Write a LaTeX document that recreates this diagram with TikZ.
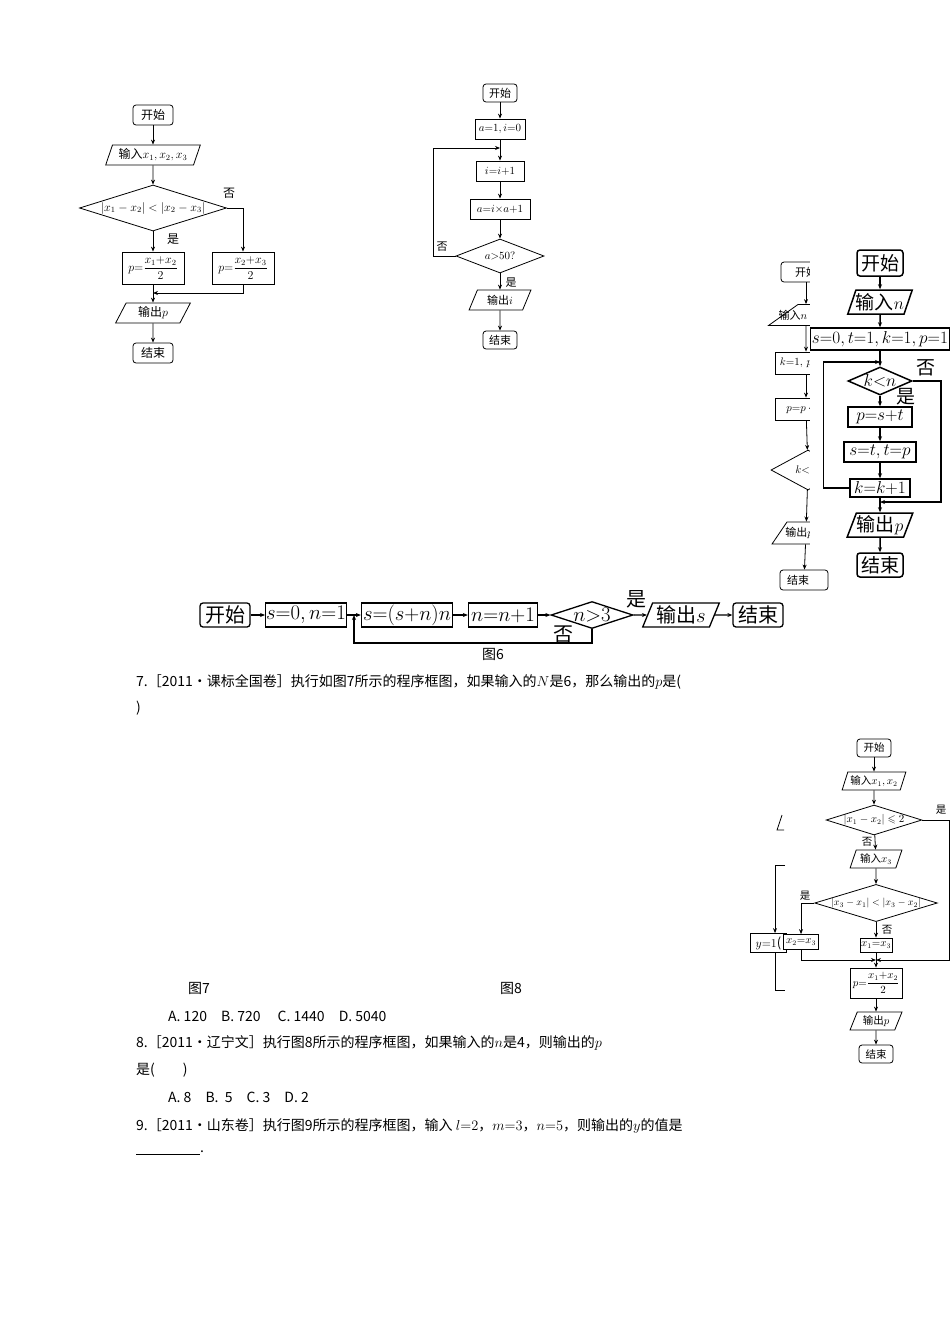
\documentclass[tikz,border=0pt]{standalone}
\usepackage{amsmath,amssymb}
\usepackage{fontspec}
\setmainfont{Noto Sans CJK SC}
\usetikzlibrary{shapes.geometric,arrows.meta}
\newcommand\myeq{\mathord{=}}
\newcommand\mylt{\mathord{<}}
\newcommand\mygt{\mathord{>}}
\newcommand\mypl{\mathord{+}}
\tikzset{
 base/.style={draw,inner sep=1pt,fill=white},
 term/.style={base,rounded corners=3pt,minimum width=34pt,minimum height=18pt},
 proc/.style={base,rectangle},
 io/.style={base,trapezium,trapezium left angle=65,trapezium right angle=115,trapezium stretches=true,inner sep=0pt},
 dec/.style={base,diamond,inner sep=0pt},
 arr/.style={-{Stealth[length=5pt,width=4pt]}},
 lab/.style={inner sep=0pt},
 txt/.style={anchor=west,inner sep=0pt,font=\fontsize{14}{14}\selectfont},
}
\begin{document}
\begin{tikzpicture}[x=1pt,y=-1pt]
\fill[white] (0,0) rectangle (950,1344);
\useasboundingbox (0,0) rectangle (950,1344);
% ---- chart 1
\begin{scope}[font=\fontsize{12}{12}\selectfont,line width=0.8pt]
\node[term,minimum width=40pt,minimum height=20pt] (a1) at (153,115) {开始};
\node[io,minimum width=95pt,minimum height=20pt] (a2) at (153,155) {输入$x_1,x_2,x_3$};
\node[dec,aspect=3.2,minimum width=147pt,minimum height=46pt] (a3) at (153,208) {$|x_1-x_2|<|x_2-x_3|$};
\node[proc,minimum width=62pt,minimum height=32pt] (a4) at (153,268) {$p\myeq\dfrac{x_1\mypl x_2}{2}$};
\node[proc,minimum width=62pt,minimum height=32pt] (a5) at (243,268) {$p\myeq\dfrac{x_2\mypl x_3}{2}$};
\node[io,minimum width=75pt,minimum height=20pt] (a6) at (153,313) {输出$p$};
\node[term,minimum width=40pt,minimum height=20pt] (a7) at (153,353) {结束};
\coordinate (j1) at (153,293);
\draw[arr] (a1)--(a2); \draw[arr] (a2)--(a3); \draw[arr] (a3)--(a4);
\draw[arr] (a3.east) -| (a5.north);
\draw[arr] (a5.south) |- (j1);
\draw[arr] (a4)--(a6); \draw[arr] (a6)--(a7);
\node[lab] (n1) at (229,193) {否};
\node[lab] (y1) at (173,239) {是};
\end{scope}
% ---- chart 2
\begin{scope}[font=\fontsize{11}{11}\selectfont,line width=0.8pt]
\node[term] (m1) at (500,93) {开始};
\node[proc,minimum width=50pt,minimum height=20pt] (m2) at (500,129) {$a\myeq1,i\myeq0$};
\coordinate (mj) at (500,148);
\node[proc,minimum width=48pt,minimum height=20pt] (m3) at (500,171) {$i\myeq i\mypl1$};
\node[proc,minimum width=60pt,minimum height=20pt] (m4) at (500,209) {$a\myeq i{\times}a\mypl1$};
\node[dec,aspect=2.6,minimum width=88pt,minimum height=34pt] (m5) at (500,256) {$a\mygt50?$};
\node[io,minimum width=62pt,minimum height=20pt] (m6) at (500,300) {输出$i$};
\node[term] (m7) at (500,340) {结束};
\draw[arr] (m1)--(m2); \draw[arr] (m2)--(m3); \draw[arr] (m3)--(m4);
\draw[arr] (m4)--(m5); \draw[arr] (m5)--(m6); \draw[arr] (m6)--(m7);
\draw[arr] (m5.west) -- ++(-22,0) |- (mj);
\node[lab] (n2) at (442,247) {否};
\node[lab] (y2) at (511,283) {是};
\end{scope}
% ---- partial chart behind
\begin{scope}[font=\fontsize{11}{11}\selectfont,line width=0.8pt]
\node[term,minimum width=50pt,minimum height=20pt] (p1) at (806,272) {开始};
\node[io,minimum width=75pt,minimum height=21pt] (p2) at (806,315) {\hspace*{-26pt}输入$n$};
\node[proc,minimum width=62pt,minimum height=22pt] (p3) at (806,363) {\hspace*{-6pt}$k\myeq1,\,p\myeq1$};
\node[proc,minimum width=62pt,minimum height=22pt] (p4) at (806,409) {\hspace*{-6pt}$p\myeq p\cdot k$};
\node[dec,aspect=1.9,minimum width=74pt,minimum height=40pt] (p5) at (808,470) {\hspace*{-4pt}$k\mylt n$};
\node[io,minimum width=68pt,minimum height=22pt] (p6) at (806,533) {\hspace*{-14pt}输出$p$};
\node[term,minimum width=48pt,minimum height=20pt] (p7) at (804,580) {\hspace*{-12pt}结束};
\draw[arr] (p1)--(p2); \draw[arr] (p2)--(p3); \draw[arr] (p3)--(p4);
\draw[arr] (p4)--(p5); \draw[arr] (p5)--(p6); \draw[arr] (p6)--(p7);
\end{scope}
\fill[white] (810,245) rectangle (950,567);
% ---- big chart
\begin{scope}[font=\fontsize{19}{19}\selectfont,line width=1.5pt]
\node[term,minimum width=46pt,minimum height=26pt] (b1) at (880,263) {开始};
\node[io,minimum width=64pt,minimum height=24pt] (b2) at (880,302) {输入$n$};
\node[proc,minimum width=139pt,minimum height=22pt,inner sep=0.5pt,font=\fontsize{17}{17}\selectfont] (b3) at (880,339) {$s\myeq0,t\myeq1,k\myeq1,p\myeq1$};
\coordinate (bj) at (880,362);
\node[dec,aspect=2.3,minimum width=64pt,minimum height=28pt] (b4) at (880,381) {$k\mylt n$};
\node[proc,minimum width=64pt,minimum height=20pt] (b5) at (880,417) {$p\myeq s\mypl t$};
\node[proc,minimum width=72pt,minimum height=20pt] (b6) at (880,452) {$s\myeq t,t\myeq p$};
\node[proc,minimum width=60pt,minimum height=18pt] (b7) at (880,488) {$k\myeq k\mypl1$};
\coordinate (bk) at (880,502);
\node[io,minimum width=66pt,minimum height=24pt] (b8) at (880,525) {输出$p$};
\node[term,minimum width=46pt,minimum height=24pt] (b9) at (880,565) {结束};
\draw[arr] (b1)--(b2); \draw[arr] (b2)--(b3); \draw[arr] (b3)--(b4);
\draw[arr] (b4)--(b5); \draw[arr] (b5)--(b6); \draw[arr] (b6)--(b7);
\draw[arr] (b7)--(b8); \draw[arr] (b8)--(b9);
\draw[arr] (b7.west) -- ++(-26,0) |- (bj);
\draw[arr] (b4.east) -- ++(28,0) |- (bk);
\node[lab] (n3) at (926,368) {否};
\node[lab] (y3) at (906,397) {是};
\end{scope}
% ---- horizontal chart
\begin{scope}[font=\fontsize{20}{20}\selectfont,line width=1.3pt]
\node[term,minimum width=50pt,minimum height=24pt] (h1) at (225,615) {开始};
\node[proc,minimum width=78pt,minimum height=24pt,inner sep=0.5pt] (h2) at (306,615) {$s\myeq0,n\myeq1$};
\node[proc,minimum width=91pt,minimum height=24pt,inner sep=0.5pt] (h3) at (407,615) {$s\myeq(s\mypl n)n$};
\node[proc,minimum width=69pt,minimum height=24pt,inner sep=0.5pt] (h4) at (503,615) {$n\myeq n\mypl1$};
\node[dec,aspect=3,minimum width=82pt,minimum height=27pt] (h5) at (592,615) {$n\mygt3$};
\node[io,minimum width=77pt,minimum height=24pt] (h6) at (681,615) {输出$s$};
\node[term,minimum width=50pt,minimum height=24pt] (h7) at (758,615) {结束};
\coordinate (hl) at (354,615);
\coordinate (hb) at (354,643);
\draw[arr] (h1)--(h2); \draw[arr] (h2)--(h3); \draw[arr] (h3)--(h4);
\draw[arr] (h4)--(h5); \draw[arr] (h5)--(h6); \draw[arr] (h6)--(h7);
\draw[arr] (h5.south) |- (hb) -- (hl);
\node[lab] (y4) at (636,599) {是};
\node[lab] (n4) at (563,634) {否};
\end{scope}
\node[lab,font=\fontsize{14}{14}\selectfont] (f6) at (493,654) {图6};
% ---- bottom right chart
\begin{scope}[font=\fontsize{10.5}{10.5}\selectfont,line width=0.8pt]
\draw (785,865) -- (775,865);
\node[proc,minimum width=36pt,minimum height=19pt,anchor=west,font=\fontsize{13}{13}\selectfont] (ry) at (750,943) {$y\myeq1$(};
\draw[arr] (775,865) -- (ry.north -| 775,0);
\draw (ry.south -| 775,0) -- (775,990) -- (785,990);
\draw (782,815) -- (777,830) -- (784,830);
\node[term] (r1) at (874,748) {开始};
\node[io,minimum width=64pt,minimum height=18pt] (r2) at (874,781) {输入$x_1,x_2$};
\node[dec,aspect=3.2,minimum width=86pt,minimum height=27pt] (r3) at (874,820) {$|x_1-x_2|\leqslant2$};
\node[io,minimum width=52pt,minimum height=18pt] (r4) at (876,859) {输入$x_3$};
\node[dec,aspect=3.3,minimum width=122pt,minimum height=37pt,font=\fontsize{10}{10}\selectfont] (r5) at (876,903) {$|x_3-x_1|<|x_3-x_2|$};
\node[proc,minimum width=35pt,minimum height=15pt] (r6) at (801,942) {$x_2\myeq x_3$};
\node[proc,minimum width=32pt,minimum height=14pt] (r7) at (876,945) {$x_1\myeq x_3$};
\coordinate (rj) at (876,960);
\coordinate (rc) at (949,960);
\node[proc,minimum width=52pt,minimum height=30pt] (r8) at (876,983) {$p\myeq\dfrac{x_1\mypl x_2}{2}$};
\node[io,minimum width=52pt,minimum height=18pt] (r9) at (876,1021) {输出$p$};
\node[term] (r10) at (876,1054) {结束};
\draw[arr] (r1)--(r2); \draw[arr] (r2)--(r3); \draw[arr] (r3)--(r4);
\draw[arr] (r4)--(r5); \draw[arr] (r5)--(r7); \draw[arr] (r7)--(r8);
\draw[arr] (r8)--(r9); \draw[arr] (r9)--(r10);
\draw[arr] (r3.east) -| (rc) -- (rj);
\draw[arr] (r5.west) -| (r6.north);
\draw[arr] (r6.south) |- (rj);
\node[lab] (y5) at (941,810) {是};
\node[lab] (n5) at (867,842) {否};
\node[lab] (y6) at (805,896) {是};
\node[lab] (n6) at (887,930) {否};
\end{scope}
% ---- text
\node[txt] (t1) at (136,682) {7.［2011·课标全国卷］执行如图7所示的程序框图，如果输入的$N$是6，那么输出的$p$是(};
\node[txt] (t2) at (136,708) {)};
\node[txt] (t3) at (188,988) {图7};
\node[txt] (t4) at (500,988) {图8};
\node[txt] (t5) at (168,1016) {A. 120\quad B. 720\quad\ C. 1440\quad D. 5040};
\node[txt] (t6) at (136,1043) {8.［2011·辽宁文］执行图8所示的程序框图，如果输入的$n$是4，则输出的$p$};
\node[txt] (t7) at (136,1070) {是(\qquad )};
\node[txt] (t8) at (168,1097) {A. 8\quad B.\ \ 5\quad C. 3\quad D. 2};
\node[txt] (t9) at (136,1126) {9.［2011·山东卷］执行图9所示的程序框图，输入 $l\myeq2$，$m\myeq3$，$n\myeq5$，则输出的$y$的值是};
\node[txt] (t10) at (136,1153) {\rule[-2pt]{64pt}{0.6pt}.};
\end{tikzpicture}
\end{document}
